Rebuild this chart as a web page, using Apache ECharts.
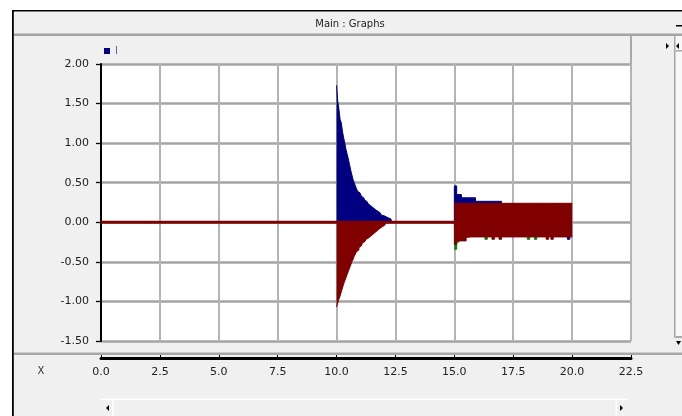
<!DOCTYPE html>
<html>
<head>
<meta charset="utf-8">
<script src="https://cdn.jsdelivr.net/npm/echarts@6/dist/echarts.min.js"></script>
<style>
html,body{margin:0;padding:0;background:#fff;}
#c{width:682px;height:416px;}
</style>
</head>
<body>
<div id="c"></div>
<script>
// ---- data ----
const decayTime = [10.00,10.05,10.10,10.15,10.20,10.25,10.30,10.35,10.40,10.45,
  10.50,10.55,10.60,10.65,10.70,10.75,10.80,10.85,10.90,10.95,
  11.00,11.05,11.10,11.15,11.20,11.25,11.30,11.35,11.40,11.45,
  11.50,11.55,11.60,11.65,11.70,11.75,11.80,11.85,11.90,11.95,
  12.00,12.05,12.10,12.15,12.20,12.25,12.30,12.35,12.40];
const decayBlue = [1.73,1.53,1.43,1.30,1.26,1.15,1.07,1.00,0.92,0.86,
  0.80,0.73,0.66,0.60,0.54,0.50,0.46,0.42,0.39,0.37,
  0.35,0.33,0.31,0.30,0.28,0.26,0.25,0.23,0.21,0.20,
  0.185,0.17,0.16,0.15,0.14,0.13,0.12,0.10,0.09,0.085,
  0.08,0.07,0.06,0.055,0.05,0.045,0.04,0,0];
const decayRed = [-1.07,-1.02,-0.97,-0.93,-0.88,-0.83,-0.78,-0.74,-0.70,-0.66,
  -0.62,-0.58,-0.54,-0.50,-0.47,-0.43,-0.40,-0.37,-0.35,-0.32,
  -0.30,-0.28,-0.26,-0.245,-0.23,-0.215,-0.20,-0.19,-0.175,-0.16,
  -0.15,-0.14,-0.125,-0.115,-0.10,-0.09,-0.075,-0.065,-0.055,-0.045,
  -0.035,-0.02,0,0,0,0,0,0,0];

const bandTime = [15.0,15.1,15.2,15.3,15.4,15.5,15.6,15.7,15.8,15.9,
  16.0,16.1,16.2,16.3,16.4,16.5,16.6,16.7,16.8,16.9,
  17.0,17.1,17.2,17.3,17.4,17.5,17.6,17.7,17.8,17.9,
  18.0,18.1,18.2,18.3,18.4,18.5,18.6,18.7,18.8,18.9,
  19.0,19.1,19.2,19.3,19.4,19.5,19.6,19.7,19.8,19.9,
  20.0];
const bandBlueHigh = [0.46,0.35,0.35,0.31,0.31,0.31,0.31,0.31,0.31,0.265,
  0.265,0.265,0.265,0.265,0.265,0.265,0.265,0.265,0.265,0.265,
  0.23,0.23,0.23,0.23,0.23,0.23,0.23,0.23,0.23,0.23,
  0.23,0.23,0.23,0.23,0.23,0.23,0.23,0.23,0.23,0.23,
  0.23,0.23,0.23,0.23,0.23,0.23,0.23,0.23,0.23,0.23,
  0.23];
const bandBlueLow = [-0.17,-0.17,-0.17,-0.17,-0.17,-0.17,-0.17,-0.17,-0.17,-0.17,
  -0.17,-0.17,-0.17,-0.17,-0.17,-0.17,-0.17,-0.17,-0.17,-0.17,
  -0.17,-0.17,-0.17,-0.17,-0.17,-0.17,-0.17,-0.17,-0.17,-0.17,
  -0.17,-0.17,-0.17,-0.17,-0.17,-0.17,-0.17,-0.17,-0.17,-0.17,
  -0.17,-0.17,-0.17,-0.17,-0.17,-0.17,-0.17,-0.17,-0.215,-0.17,
  -0.17];
const bandGreenLow = [-0.34,-0.25,-0.17,-0.17,-0.17,-0.17,-0.17,-0.17,-0.17,-0.17,
  -0.17,-0.17,-0.17,-0.215,-0.17,-0.17,-0.17,-0.17,-0.17,-0.17,
  -0.17,-0.17,-0.17,-0.17,-0.17,-0.17,-0.17,-0.17,-0.17,-0.17,
  -0.17,-0.215,-0.17,-0.17,-0.215,-0.17,-0.17,-0.17,-0.17,-0.17,
  -0.17,-0.17,-0.17,-0.17,-0.17,-0.17,-0.17,-0.17,-0.17,-0.17,
  -0.17];
const bandRedHigh = [0.24,0.24,0.24,0.24,0.24,0.24,0.24,0.24,0.24,0.24,
  0.24,0.24,0.24,0.24,0.24,0.24,0.24,0.24,0.24,0.24,
  0.24,0.24,0.24,0.24,0.24,0.24,0.24,0.24,0.24,0.24,
  0.24,0.24,0.24,0.24,0.24,0.24,0.24,0.24,0.24,0.24,
  0.24,0.24,0.24,0.24,0.24,0.24,0.24,0.24,0.24,0.24,
  0.24];
const bandRedLow = [-0.28,-0.235,-0.235,-0.235,-0.235,-0.19,-0.185,-0.185,-0.185,-0.185,
  -0.185,-0.185,-0.185,-0.185,-0.185,-0.185,-0.215,-0.185,-0.185,-0.215,
  -0.185,-0.185,-0.185,-0.185,-0.185,-0.185,-0.185,-0.185,-0.185,-0.185,
  -0.185,-0.185,-0.185,-0.185,-0.185,-0.185,-0.185,-0.185,-0.185,-0.215,
  -0.185,-0.215,-0.185,-0.185,-0.185,-0.185,-0.185,-0.185,-0.185,-0.185,
  -0.185];
const baseTime = [0, 20];
const baseValue = [0, 0];

const xTicks = {min: 0, max: 22.5, step: 2.5};
const yTicks = {min: -1.5, max: 2.0, step: 0.5};

// ---- colours ----
const BLUE = '#000080', RED = '#800000', GREEN = '#008000';
const FONT = 'DejaVu Sans';

function pairs(times, values) { return times.map((t, i) => [t, values[i]]); }
function stepArea(name, data, color, z) {
  return {
    name: name, type: 'line', step: 'end', data: data, z: z,
    symbol: 'none', showSymbol: false, silent: true,
    lineStyle: {color: color, width: 1},
    itemStyle: {color: color},
    areaStyle: {color: color, opacity: 1}
  };
}

const chart = echarts.init(document.getElementById('c'), null, {renderer: 'canvas'});
chart.setOption({
  animation: false,
  backgroundColor: '#ffffff',
  grid: {left: 101, top: 64, width: 530, height: 277, containLabel: false,
         outerBoundsMode: 'none', show: true, backgroundColor: '#ffffff', borderWidth: 0},
  legend: {
    data: ['I'], left: 104, top: 46, padding: 0, icon: 'rect',
    itemWidth: 6, itemHeight: 6, itemGap: 5, selectedMode: false,
    textStyle: {fontFamily: FONT, fontSize: 10, color: '#4a6a90'}
  },
  xAxis: {
    type: 'value', min: xTicks.min, max: xTicks.max, interval: xTicks.step,
    position: 'bottom', offset: 17,
    axisLine: {show: true, onZero: false, lineStyle: {color: '#000', width: 3}},
    axisTick: {show: true, inside: true, length: 4, lineStyle: {color: '#000', width: 1}},
    axisLabel: {margin: 9, fontFamily: FONT, fontSize: 11, color: '#222',
                formatter: v => v.toFixed(1)},
    splitLine: {show: true, lineStyle: {color: '#b4b4b4', width: 2}}
  },
  yAxis: {
    type: 'value', min: yTicks.min, max: yTicks.max, interval: yTicks.step,
    axisLine: {show: true, onZero: false, lineStyle: {color: '#000', width: 2}},
    axisTick: {show: true, inside: false, length: 5, lineStyle: {color: '#000', width: 1.3}},
    axisLabel: {margin: 12, fontFamily: FONT, fontSize: 11, color: '#222',
                formatter: v => v.toFixed(2)},
    splitLine: {show: true, lineStyle: {color: '#a4a4a4', width: 2.5}}
  },
  series: [
    stepArea('I', pairs(decayTime.concat(bandTime), decayBlue.concat(bandBlueHigh)), BLUE, 2),
    stepArea('I low', pairs(bandTime, bandBlueLow), BLUE, 3),
    stepArea('G low', pairs(bandTime, bandGreenLow), GREEN, 4),
    stepArea('R low', pairs(decayTime.concat(bandTime), decayRed.concat(bandRedLow)), RED, 5),
    stepArea('R high', pairs(bandTime, bandRedHigh), RED, 6),
    {
      name: 'R base', type: 'line', data: pairs(baseTime, baseValue), z: 7,
      symbol: 'none', showSymbol: false, silent: true,
      lineStyle: {color: RED, width: 3}, itemStyle: {color: RED}
    }
  ],
  graphic: [
    {type: 'rect', z: -100, shape: {x: 13, y: 11, width: 669, height: 405}, style: {fill: '#f0f0f0'}},
    {type: 'rect', z: 50, shape: {x: 12, y: 10, width: 670, height: 1.6}, style: {fill: '#000'}},
    {type: 'rect', z: 50, shape: {x: 12, y: 10, width: 1.8, height: 406}, style: {fill: '#000'}},
    {type: 'rect', z: 50, shape: {x: 14, y: 33.5, width: 668, height: 2.5}, style: {fill: '#a4a4a4'}},
    {type: 'text', z: 50, style: {text: 'Main : Graphs', x: 350, y: 24, textAlign: 'center',
      textVerticalAlign: 'middle', font: '10px "DejaVu Sans"', fill: '#222'}},
    {type: 'rect', z: 50, shape: {x: 676, y: 25, width: 6, height: 1.5}, style: {fill: '#000'}},
    {type: 'rect', z: 50, shape: {x: 630, y: 36, width: 2, height: 28}, style: {fill: '#a8a8a8'}},
    {type: 'rect', z: 50, shape: {x: 675.5, y: 36, width: 7, height: 302}, style: {fill: '#f8f8f8'}},
    {type: 'rect', z: 50, shape: {x: 674, y: 36, width: 1.5, height: 302}, style: {fill: '#a8a8a8'}},
    {type: 'rect', z: 50, shape: {x: 675.5, y: 50, width: 7, height: 1.5}, style: {fill: '#a8a8a8'}},
    {type: 'rect', z: 50, shape: {x: 675.5, y: 336, width: 7, height: 2}, style: {fill: '#a8a8a8'}},
    {type: 'polygon', z: 50, shape: {points: [[666, 43], [669, 46], [666, 49]]}, style: {fill: '#000'}},
    {type: 'polygon', z: 50, shape: {points: [[676, 46], [679, 43], [679, 49]]}, style: {fill: '#000'}},
    {type: 'polygon', z: 50, shape: {points: [[676, 341], [681, 341], [678.5, 345]]}, style: {fill: '#000'}},
    {type: 'rect', z: 50, shape: {x: 14, y: 352.5, width: 668, height: 2.5}, style: {fill: '#a8a8a8'}},
    {type: 'text', z: 50, style: {text: 'X', x: 41, y: 371, textAlign: 'center',
      textVerticalAlign: 'middle', font: '10px "DejaVu Sans"', fill: '#333'}},
    {type: 'rect', z: 50, shape: {x: 100, y: 398.5, width: 528, height: 1.5}, style: {fill: '#ffffff'}},
    {type: 'rect', z: 50, shape: {x: 112.5, y: 400, width: 1.5, height: 16}, style: {fill: '#ffffff'}},
    {type: 'rect', z: 50, shape: {x: 615.5, y: 400, width: 1.5, height: 16}, style: {fill: '#ffffff'}},
    {type: 'polygon', z: 50, shape: {points: [[109, 405], [106, 408], [109, 411]]}, style: {fill: '#000'}},
    {type: 'polygon', z: 50, shape: {points: [[620, 405], [623, 408], [620, 411]]}, style: {fill: '#000'}}
  ]
});
</script>
</body>
</html>
